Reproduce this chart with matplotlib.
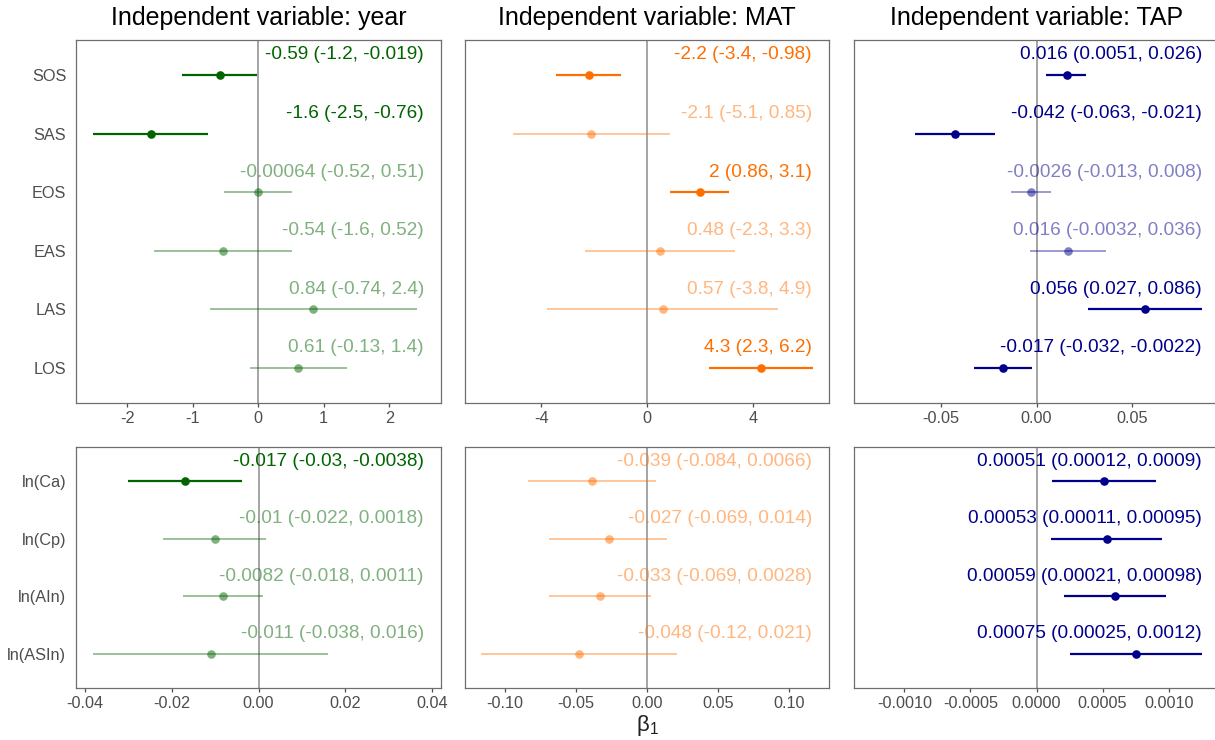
import numpy as np
import matplotlib
matplotlib.use("Agg")
import matplotlib.pyplot as plt
import matplotlib.transforms as mtransforms

plt.rcParams['font.family'] = ['Liberation Sans', 'DejaVu Sans']
plt.rcParams['axes.unicode_minus'] = False
plt.rcParams['mathtext.fontset'] = 'custom'
plt.rcParams['mathtext.rm'] = 'Liberation Sans'
plt.rcParams['mathtext.it'] = 'Liberation Sans'

# phenology metrics (top row) and productivity metrics (bottom row)
top_cats = ["SOS", "SAS", "EOS", "EAS", "LAS", "LOS"]
bot_cats = ["ln(Ca)", "ln(Cp)", "ln(AIn)", "ln(ASIn)"]

# year
year_top_est = [-0.59, -1.64, -0.00064, -0.54, 0.84, 0.61]
year_top_lo = [-1.17, -2.52, -0.52, -1.59, -0.74, -0.13]
year_top_hi = [-0.019, -0.76, 0.51, 0.52, 2.42, 1.36]
year_top_lab = ["-0.59 (-1.2, -0.019)", "-1.6 (-2.5, -0.76)", "-0.00064 (-0.52, 0.51)",
                "-0.54 (-1.6, 0.52)", "0.84 (-0.74, 2.4)", "0.61 (-0.13, 1.4)"]
year_bot_est = [-0.017, -0.010, -0.0082, -0.011]
year_bot_lo = [-0.030, -0.022, -0.0174, -0.038]
year_bot_hi = [-0.0038, 0.0018, 0.0011, 0.016]
year_bot_lab = ["-0.017 (-0.03, -0.0038)", "-0.01 (-0.022, 0.0018)",
                "-0.0082 (-0.018, 0.0011)", "-0.011 (-0.038, 0.016)"]

# MAT
mat_top_est = [-2.2, -2.11, 1.98, 0.48, 0.58, 4.28]
mat_top_lo = [-3.43, -5.08, 0.86, -2.34, -3.78, 2.32]
mat_top_hi = [-0.98, 0.85, 3.08, 3.31, 4.93, 6.26]
mat_top_lab = ["-2.2 (-3.4, -0.98)", "-2.1 (-5.1, 0.85)", "2 (0.86, 3.1)",
               "0.48 (-2.3, 3.3)", "0.57 (-3.8, 4.9)", "4.3 (2.3, 6.2)"]
mat_bot_est = [-0.039, -0.027, -0.033, -0.048]
mat_bot_lo = [-0.084, -0.069, -0.069, -0.117]
mat_bot_hi = [0.0066, 0.0143, 0.0028, 0.021]
mat_bot_lab = ["-0.039 (-0.084, 0.0066)", "-0.027 (-0.069, 0.014)",
               "-0.033 (-0.069, 0.0028)", "-0.048 (-0.12, 0.021)"]

# TAP
tap_top_est = [0.0157, -0.0426, -0.0030, 0.0165, 0.0566, -0.0176]
tap_top_lo = [0.0052, -0.0635, -0.0134, -0.0033, 0.027, -0.0326]
tap_top_hi = [0.026, -0.0217, 0.0077, 0.0362, 0.0865, -0.0024]
tap_top_lab = ["0.016 (0.0051, 0.026)", "-0.042 (-0.063, -0.021)", "-0.0026 (-0.013, 0.008)",
               "0.016 (-0.0032, 0.036)", "0.056 (0.027, 0.086)", "-0.017 (-0.032, -0.0022)"]
tap_bot_est = [0.00051, 0.00053, 0.00059, 0.00075]
tap_bot_lo = [0.000118, 0.000108, 0.00021, 0.00025]
tap_bot_hi = [0.0009, 0.00095, 0.00098, 0.00125]
tap_bot_lab = ["0.00051 (0.00012, 0.0009)", "0.00053 (0.00011, 0.00095)",
               "0.00059 (0.00021, 0.00098)", "0.00075 (0.00025, 0.0012)"]

col_year = "#006400"
col_mat = "#FF6E00"
col_tap = "#00008B"

fig = plt.figure(figsize=(12.15, 7.4), dpi=100)
W, H = 1215, 740


def make_ax(x0, x1, y0, y1):
    return fig.add_axes([x0 / W, 1 - y1 / H, (x1 - x0) / W, (y1 - y0) / H])


def panel(ax, cats, est, lo, hi, labs, col, xlim, ticks, fmt):
    n = len(cats)
    ypos = np.arange(1, n + 1)
    ax.axvline(0, color="#8c8c8c", lw=1.3, alpha=0.85, zorder=1)
    trans = mtransforms.blended_transform_factory(ax.transAxes, ax.transData)
    for i in range(n):
        sig = lo[i] > 0 or hi[i] < 0
        a = 1.0 if sig else 0.5
        lw = 1.6 if sig else 1.1
        ax.plot([lo[i], hi[i]], [ypos[i], ypos[i]], color=col, lw=lw, alpha=a,
                solid_capstyle="butt", zorder=2)
        ax.plot(est[i], ypos[i], "o", color=col, ms=6.2, mew=0, alpha=a, zorder=3)
        ax.annotate(labs[i], xy=(0.953, ypos[i]), xycoords=trans,
                    xytext=(0, 14.5), textcoords="offset points",
                    ha="right", va="center", fontsize=13.7, color=col, alpha=a, zorder=4)
    ax.set_ylim(n + 0.6, 0.4)
    ax.set_xlim(*xlim)
    ax.set_xticks(ticks)
    ax.set_xticklabels([fmt.format(t) for t in ticks])
    ax.set_yticks(ypos)
    ax.set_yticklabels(cats)
    for s in ax.spines.values():
        s.set_color("#6e6e6e")
        s.set_linewidth(0.9)
    ax.tick_params(axis="x", length=3, width=0.9, color="#4d4d4d",
                   labelsize=11.7, labelcolor="#4d4d4d", pad=3)
    ax.tick_params(axis="y", length=0, labelsize=11.7, labelcolor="#4d4d4d", pad=7)


cols = [(76, 441), (465, 829), (854, 1219)]
top_y = (40, 403)
bot_y = (447, 688)

ax1 = make_ax(cols[0][0], cols[0][1], *top_y)
ax2 = make_ax(cols[1][0], cols[1][1], *top_y)
ax3 = make_ax(cols[2][0], cols[2][1], *top_y)
ax4 = make_ax(cols[0][0], cols[0][1], *bot_y)
ax5 = make_ax(cols[1][0], cols[1][1], *bot_y)
ax6 = make_ax(cols[2][0], cols[2][1], *bot_y)

panel(ax1, top_cats, year_top_est, year_top_lo, year_top_hi, year_top_lab, col_year,
      (-2.78, 2.79), [-2, -1, 0, 1, 2], "{:g}")
panel(ax2, top_cats, mat_top_est, mat_top_lo, mat_top_hi, mat_top_lab, col_mat,
      (-6.88, 6.86), [-4, 0, 4], "{:g}")
panel(ax3, top_cats, tap_top_est, tap_top_lo, tap_top_hi, tap_top_lab, col_tap,
      (-0.0955, 0.0955), [-0.05, 0, 0.05], "{:.2f}")
panel(ax4, bot_cats, year_bot_est, year_bot_lo, year_bot_hi, year_bot_lab, col_year,
      (-0.042, 0.042), [-0.04, -0.02, 0, 0.02, 0.04], "{:.2f}")
panel(ax5, bot_cats, mat_bot_est, mat_bot_lo, mat_bot_hi, mat_bot_lab, col_mat,
      (-0.128, 0.128), [-0.10, -0.05, 0, 0.05, 0.10], "{:.2f}")
panel(ax6, bot_cats, tap_bot_est, tap_bot_lo, tap_bot_hi, tap_bot_lab, col_tap,
      (-0.00138, 0.00138), [-0.001, -0.0005, 0, 0.0005, 0.001], "{:.4f}")

for ax in (ax2, ax3, ax5, ax6):
    ax.set_yticklabels([])

# no "-0.00" at zero
for ax, z in ((ax3, "0.00"), (ax4, "0.00"), (ax5, "0.00"), (ax6, "0.0000")):
    labs = [t.get_text() for t in ax.get_xticklabels()]
    ax.set_xticklabels([z if l.replace("-", "") == z else l for l in labs])

ax1.set_title("Independent variable: year", fontsize=18, pad=11)
ax2.set_title("Independent variable: MAT", fontsize=18, pad=11)
ax3.set_title("Independent variable: TAP", fontsize=18, pad=11)

fig.text(647 / W, 1 - 726 / H, r"β$_1$", ha="center", va="center", fontsize=16, color="#222222")

plt.savefig("out.png", dpi=100)
